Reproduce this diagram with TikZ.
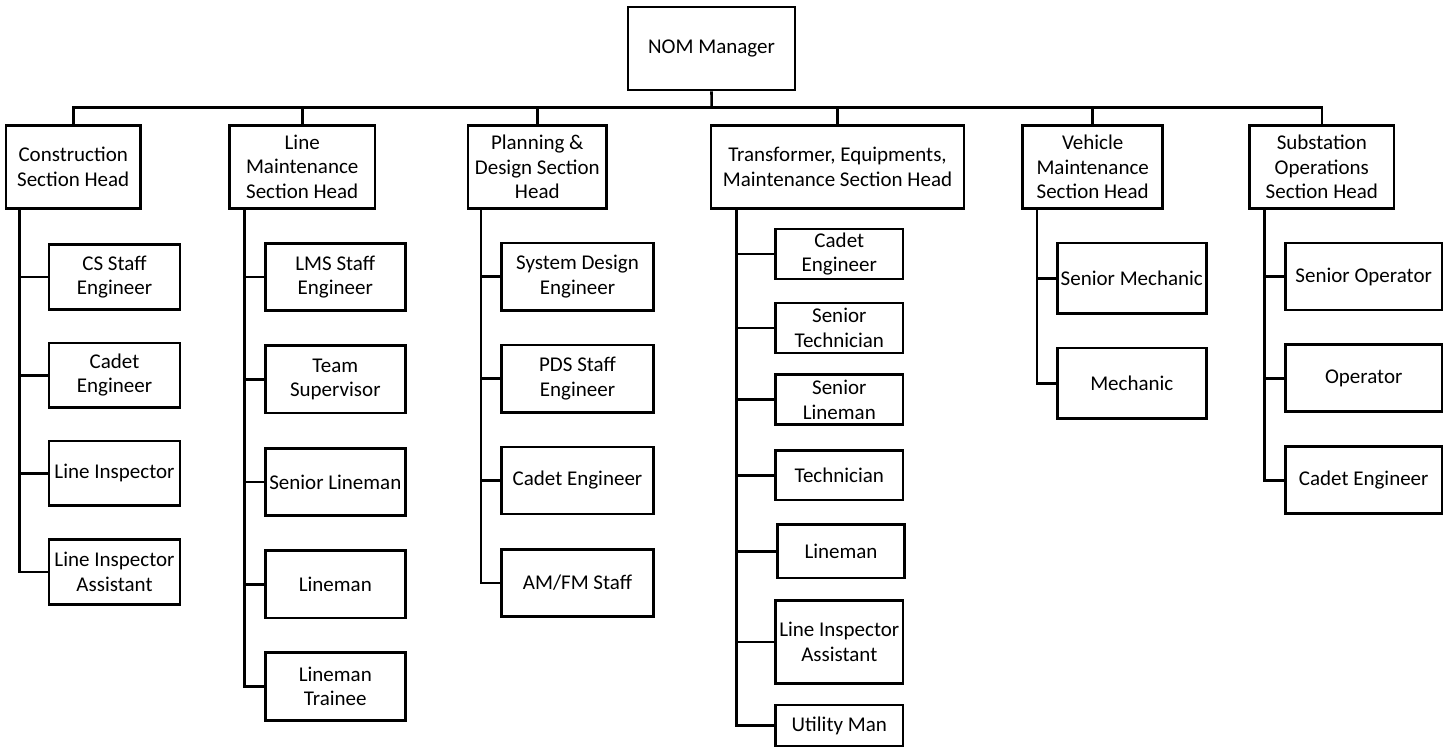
\documentclass[tikz,border=0pt]{standalone}
\usepackage{fontspec}
\setmainfont{Carlito}
\begin{document}
\begin{tikzpicture}[x=1pt,y=-1pt,
  bx/.style={draw=black, line width=2.6pt, fill=white, inner sep=0pt, align=center,
    font=\fontsize{21}{24.5}\selectfont},
  ln/.style={draw=black, line width=2.6pt}]
\useasboundingbox (0,0) rectangle (1451,747);
% top
\node[bx, minimum width=167pt, minimum height=83pt] (nom) at (711.5,48.5) {NOM Manager};
% heads
\node[bx, minimum width=134.3pt, minimum height=83pt] (cons) at (73.2,166.8) {Construction\\Section Head};
\node[bx, minimum width=145.7pt, minimum height=83pt] (lm) at (302.2,166.8) {Line\\Maintenance\\Section Head};
\node[bx, minimum width=138.7pt, minimum height=83pt] (pd) at (537.3,166.8) {Planning \&\\Design Section\\Head};
\node[bx, minimum width=253pt, minimum height=83pt] (tr) at (837.5,166.8) {Transformer, Equipments,\\Maintenance Section Head};
\node[bx, minimum width=140pt, minimum height=83pt] (vm) at (1092.7,166.8) {Vehicle\\Maintenance\\Section Head};
\node[bx, minimum width=144.3pt, minimum height=83pt] (so) at (1321.8,166.8) {Substation\\Operations\\Section Head};
% bus
\coordinate (bus) at (711.7,107.7);
\draw[ln] (nom.south) -- (bus);
\draw[ln] (cons.north) -- (cons.north |- bus) -| (so.north);
\foreach \h in {lm,pd,tr,vm} \draw[ln] (\h.north) -- (\h.north |- bus);
% construction column
\tikzset{cw/.style={bx, minimum width=131pt, minimum height=64.5pt}}
\node[cw] (c1) at (114.5,277) {CS Staff\\Engineer};
\node[cw] (c2) at (114.5,375.2) {Cadet\\Engineer};
\node[cw] (c3) at (114.5,473.3) {Line Inspector};
\node[cw] (c4) at (114.5,572) {Line Inspector\\Assistant};
\coordinate (sc) at (19.7,208.3);
\draw[ln] (sc) |- (c4.west);
\foreach \n in {c1,c2,c3} \draw[ln] (sc |- \n.west) -- (\n.west);
% line maintenance column
\tikzset{lw/.style={bx, minimum width=140pt, minimum height=67.5pt}}
\node[lw] (l1) at (335.3,277) {LMS Staff\\Engineer};
\node[lw] (l2) at (335.3,379.3) {Team\\Supervisor};
\node[lw] (l3) at (335.3,482) {Senior Lineman};
\node[lw] (l4) at (335.3,584.2) {Lineman};
\node[lw] (l5) at (335.3,686.5) {Lineman\\Trainee};
\coordinate (sl) at (244.3,208.3);
\draw[ln] (sl) |- (l5.west);
\foreach \n in {l1,l2,l3,l4} \draw[ln] (sl |- \n.west) -- (\n.west);
% planning column
\tikzset{pw/.style={bx, minimum width=151.7pt, minimum height=67.2pt}}
\node[pw] (p1) at (577.5,276.7) {System Design\\Engineer};
\node[pw] (p2) at (577.5,378.7) {PDS Staff\\Engineer};
\node[pw] (p3) at (577.5,480.5) {Cadet Engineer};
\node[pw] (p4) at (577.5,582.8) {AM/FM Staff};
\coordinate (sp) at (481,208.3);
\draw[ln] (sp) |- (p4.west);
\foreach \n in {p1,p2,p3} \draw[ln] (sp |- \n.west) -- (\n.west);
% transformer column
\tikzset{tw/.style={bx, minimum width=127.3pt}}
\node[tw, minimum height=50pt] (t1) at (839.3,254) {Cadet\\Engineer};
\node[tw, minimum height=50pt] (t2) at (839.3,328) {Senior\\Technician};
\node[tw, minimum height=50pt] (t3) at (839.3,399.7) {Senior\\Lineman};
\node[tw, minimum height=49.7pt] (t4) at (839.3,475.2) {Technician};
\node[tw, minimum height=53.7pt] (t5) at (841,551.2) {Lineman};
\node[tw, minimum height=83pt] (t6) at (839.3,641.8) {Line Inspector\\Assistant};
\node[tw, minimum height=41pt] (t7) at (839.3,725.5) {Utility Man};
\coordinate (st) at (736.3,208.3);
\draw[ln] (st) |- (t7.west);
\foreach \n in {t1,t2,t3,t4,t5,t6} \draw[ln] (st |- \n.west) -- (\n.west);
% vehicle column
\tikzset{vw/.style={bx, minimum width=149pt, minimum height=70.5pt}}
\node[vw] (v1) at (1131.8,278.3) {Senior Mechanic};
\node[vw] (v2) at (1131.8,383.2) {Mechanic};
\coordinate (sv) at (1037,208.3);
\draw[ln] (sv) |- (v2.west);
\draw[ln] (sv |- v1.west) -- (v1.west);
% substation column
\tikzset{sw/.style={bx, minimum width=156.7pt, minimum height=67pt}}
\node[sw] (s1) at (1363.7,276.5) {Senior Operator};
\node[sw] (s2) at (1363.7,378.2) {Operator};
\node[sw] (s3) at (1363.7,480.2) {Cadet Engineer};
\coordinate (ss) at (1264.3,208.3);
\draw[ln] (ss) |- (s3.west);
\foreach \n in {s1,s2} \draw[ln] (ss |- \n.west) -- (\n.west);
\end{tikzpicture}
\end{document}
